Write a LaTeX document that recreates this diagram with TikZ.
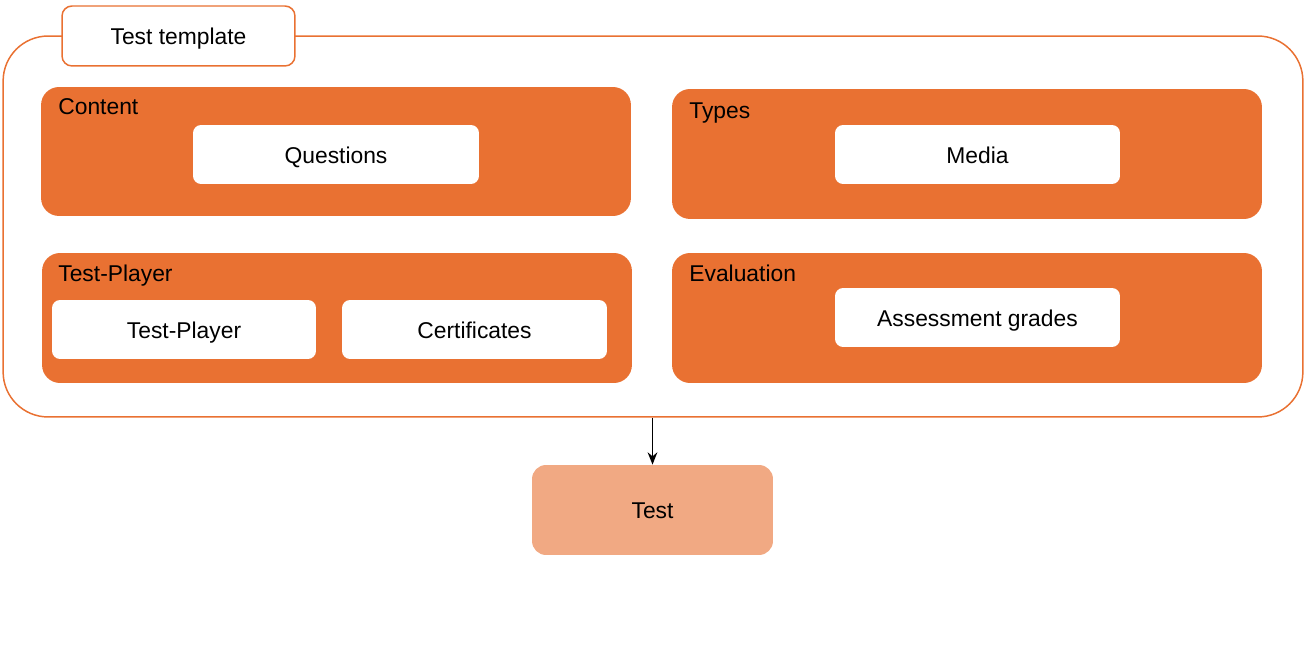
\documentclass[tikz,border=0pt]{standalone}
\usepackage{xcolor}
\usepackage{fontspec}
\setmainfont{Liberation Sans}
\usepackage{tikz}
\usetikzlibrary{arrows.meta, positioning}

\definecolor{accent}{HTML}{E97132}
\definecolor{accentlight}{HTML}{F1A983}

\begin{document}
\begin{tikzpicture}[
  x=0.02cm, y=-0.02cm,
  txt/.style={font=\fontsize{13}{15}\selectfont, text height=1.2em, text depth=0.22em},
  frame/.style={rectangle, draw=accent, line width=0.85pt, rounded corners=0.9cm, minimum width=26cm, minimum height=7.62cm},
  tag/.style={rectangle, txt, draw=accent, fill=white, line width=0.85pt, rounded corners=0.2cm, minimum width=4.66cm, minimum height=1.2cm},
  group/.style={rectangle, fill=accent, rounded corners=0.36cm, minimum width=11.8cm, minimum height=2.6cm},
  grouplabel/.style={txt, anchor=west, inner sep=0pt},
  item/.style={rectangle, txt, fill=white, rounded corners=0.16cm, minimum height=1.18cm},
  result/.style={rectangle, txt, fill=accentlight, rounded corners=0.28cm, minimum width=4.82cm, minimum height=1.8cm},
  arrow/.style={-{Stealth[length=7pt, width=5.5pt]}, line width=1pt}
]
  \useasboundingbox (0,0) rectangle (1309,651);

  \node[frame] (template) at (653,226.5) {};
  \node[tag] (templatetag) at (178.5,36) {Test template};

  \node[group, minimum height=2.58cm] (content) at (336,151.5) {};
  \node[grouplabel] (contentlabel) at (58,106) {Content};
  \node[item, minimum width=5.72cm] (questions) at (336,154.5) {Questions};

  \node[group] (types) at (967,154) {};
  \node[grouplabel] (typeslabel) at (689,110) {Types};
  \node[item, minimum width=5.7cm] (media) at (977.5,154.5) {Media};

  \node[group] (player) at (337,318) {};
  \node[grouplabel] (playerlabel) at (58,273) {Test-Player};
  \node[item, minimum width=5.28cm] (playeritem) at (184,329.5) {Test-Player};
  \node[item, minimum width=5.3cm] (certificates) at (474.5,329.5) {Certificates};

  \node[group] (evaluation) at (967,318) {};
  \node[grouplabel] (evaluationlabel) at (689,273) {Evaluation};
  \node[item, minimum width=5.7cm] (grades) at (977.5,317.5) {Assessment grades};

  \node[result] (test) at (652.5,510) {Test};

  \draw[arrow] (test.north |- template.south) -- (test.north);
\end{tikzpicture}
\end{document}
